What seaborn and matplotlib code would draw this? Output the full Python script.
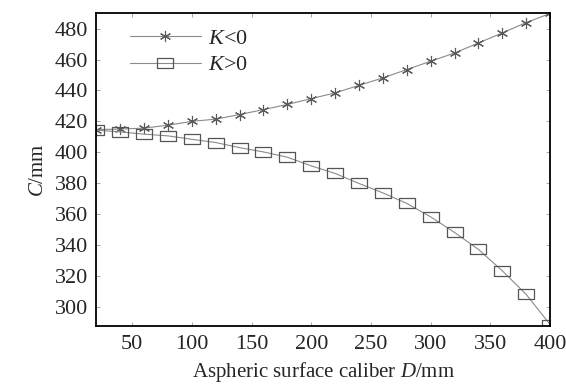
import numpy as np
import pandas as pd
import matplotlib
matplotlib.use("Agg")
import matplotlib.pyplot as plt
import seaborn as sns

# aperture D (mm) and sag C (mm)
D = [20, 40, 60, 80, 100, 120, 140, 160, 180, 200,
     220, 240, 260, 280, 300, 320, 340, 360, 380, 400]
C_neg = [414.7, 415.0, 415.6, 417.5, 420.0, 421.4, 424.4, 427.6, 430.9, 434.7,
         438.4, 443.3, 448.1, 453.5, 458.9, 464.2, 470.7, 477.2, 483.9, 489.8]
C_pos = [414.3, 413.2, 411.7, 410.6, 408.4, 406.3, 403.0, 400.2, 396.8, 391.2,
         386.3, 379.8, 373.7, 366.9, 358.2, 348.1, 337.1, 323.3, 308.0, 288.5]
labels = ["$K$<0", "$K$>0"]
x_ticks = [50, 100, 150, 200, 250, 300, 350, 400]
y_ticks = [300, 320, 340, 360, 380, 400, 420, 440, 460, 480]

sns.set_theme(style="ticks")
plt.rcParams['font.family'] = ['Liberation Serif', 'DejaVu Serif']
plt.rcParams['mathtext.fontset'] = 'custom'
plt.rcParams['mathtext.rm'] = 'Liberation Serif'
plt.rcParams['mathtext.it'] = 'Liberation Serif:italic'

df = pd.DataFrame({"D": D, "neg": C_neg, "pos": C_pos})

fig = plt.figure(figsize=(5.66, 3.86), dpi=100)
ax = fig.add_axes([0.170, 0.155, 0.802, 0.811])

rect = [(-1.5, -1), (1.5, -1), (1.5, 1), (-1.5, 1), (-1.5, -1)]
fs = 16

sns.lineplot(data=df, x="D", y="neg", ax=ax, label=labels[0], color="#8a8a8a",
             lw=0.8, marker=(6, 2, 0), ms=8, mec="#5a5a5a", mew=0.8)
sns.lineplot(data=df, x="D", y="pos", ax=ax, label=labels[1], color="#8a8a8a",
             lw=0.8, marker=rect, ms=11, mfc="none", mec="#555555", mew=0.9)

ax.set_xlim(20, 400)
ax.set_ylim(287.5, 490)
ax.set_xticks(x_ticks)
ax.set_yticks(y_ticks)
ax.tick_params(direction="in", length=3, width=0.6, color="#999999",
               top=True, right=True, labelsize=fs)
ax.tick_params(axis="y", pad=6)
ax.tick_params(axis="x", pad=6)
for sp in ax.spines.values():
    sp.set_linewidth(1.3)
    sp.set_color("black")

ax.set_xlabel("Aspheric surface caliber $D$/mm", fontsize=15, labelpad=5)
ax.set_ylabel("$C$/mm", fontsize=15, labelpad=5)

ax.legend(loc="upper left", frameon=False, fontsize=fs, handlelength=3.2,
          handletextpad=0.3, labelspacing=0.25, borderaxespad=0.3,
          bbox_to_anchor=(0.04, 1.0))

fig.savefig("out.png", dpi=100)
